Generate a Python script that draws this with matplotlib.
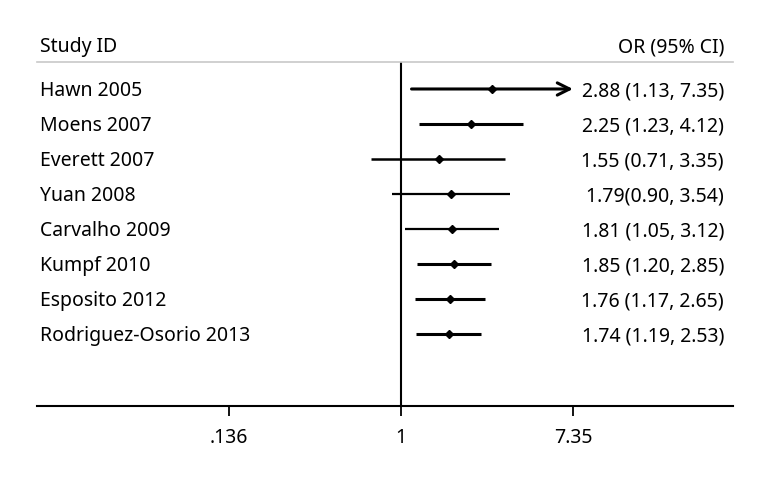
import numpy as np
import matplotlib.pyplot as plt
import matplotlib.transforms as mtrans

# 数据
studies = ['Hawn 2005', 'Moens 2007', 'Everett 2007', 'Yuan 2008',
           'Carvalho 2009', 'Kumpf 2010', 'Esposito 2012', 'Rodriguez-Osorio 2013']
odds = [2.88, 2.25, 1.55, 1.79, 1.81, 1.85, 1.76, 1.74]
lower = [1.13, 1.23, 0.71, 0.90, 1.05, 1.20, 1.17, 1.19]
upper = [7.35, 4.12, 3.35, 3.54, 3.12, 2.85, 2.65, 2.53]
labels = ['2.88 (1.13, 7.35)', '2.25 (1.23, 4.12)', '1.55 (0.71, 3.35)',
          '1.79(0.90, 3.54)', '1.81 (1.05, 3.12)', '1.85 (1.20, 2.85)',
          '1.76 (1.17, 2.65)', '1.74 (1.19, 2.53)']
xticks = [0.136, 1, 7.35]
xticklabels = ['.136', '1', '7.35']

# 线宽（样式）
widths = [2.2, 2.2, 1.8, 1.6, 1.6, 2.2, 2.2, 2.2]

plt.rcParams['font.family'] = ['Noto Sans', 'DejaVu Sans']
plt.rcParams['font.stretch'] = 'condensed'

fig = plt.figure(figsize=(7.68, 4.8), dpi=100)
ax = fig.add_axes([37/768, 1-406/480, 696/768, 344/480])
ax.set_xscale('log')
ax.set_xlim(np.exp(-4.223), np.exp(3.852))
ax.set_ylim(9.057, -0.771)

ax.axvline(1, color='black', lw=1.5)

for i in range(len(studies)):
    if i == 0:
        ax.annotate('', xy=(upper[i], i), xytext=(lower[i], i),
                    arrowprops=dict(arrowstyle='->', lw=widths[i], color='black',
                                    mutation_scale=22, shrinkA=0, shrinkB=0))
    else:
        ax.plot([lower[i], upper[i]], [i, i], color='black', lw=widths[i],
                solid_capstyle='butt')
    ax.plot(odds[i], i, marker='D', color='black', markersize=4)

# 文字略往下移一点
dy = 0.07
trans = mtrans.blended_transform_factory(ax.transAxes, ax.transData)
for i in range(len(studies)):
    ax.text(0.005, i + dy, studies[i], transform=trans, ha='left', va='center', fontsize=14)
    ax.text(0.987, i + dy, labels[i], transform=trans, ha='right', va='center', fontsize=14)
ax.text(0.005, -1.26 + dy, 'Study ID', transform=trans, ha='left', va='center', fontsize=14)
ax.text(0.987, -1.26 + dy, 'OR (95% CI)', transform=trans, ha='right', va='center', fontsize=14)

for s in ['left', 'right']:
    ax.spines[s].set_visible(False)
ax.spines['top'].set_color('#c8c8c8')
ax.spines['top'].set_linewidth(1.2)
ax.spines['bottom'].set_linewidth(1.5)

ax.set_xticks(xticks)
ax.set_xticklabels(xticklabels)
ax.minorticks_off()
ax.tick_params(axis='x', length=7, width=1.3, pad=9, labelsize=14)
ax.set_yticks([])

fig.savefig('out.png', dpi=100)
